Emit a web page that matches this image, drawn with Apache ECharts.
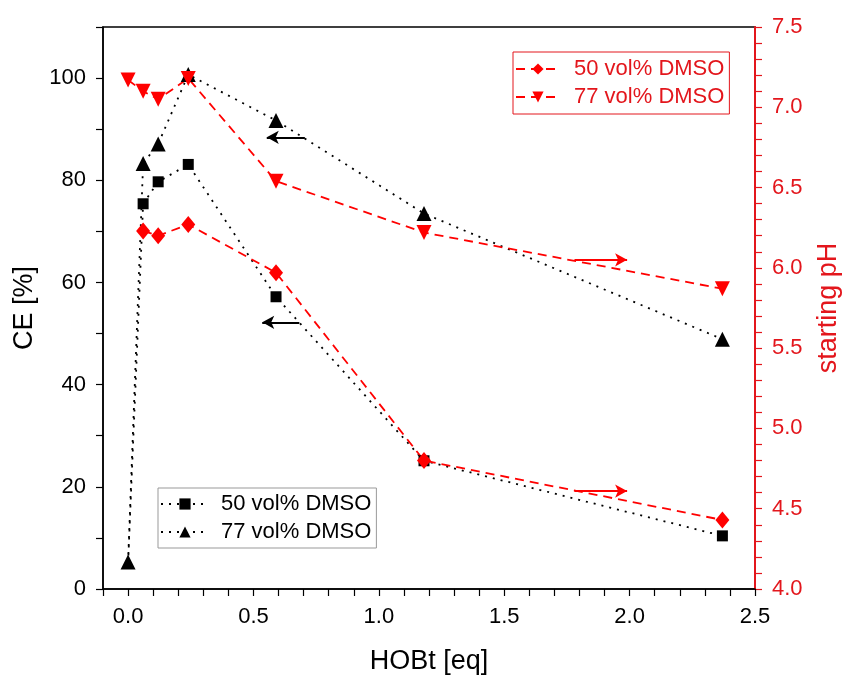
<!DOCTYPE html>
<html>
<head>
<meta charset="utf-8">
<script src="https://cdn.jsdelivr.net/npm/echarts@6/dist/echarts.min.js"></script>
<style>
  html, body { margin: 0; padding: 0; background: #fff; }
  #chart { width: 842px; height: 675px; }
</style>
</head>
<body>
<div id="chart"></div>
<script>
// HOBt equivalents (x)
var hobt = [0, 0.06, 0.12, 0.24, 0.59, 1.18, 2.37];
// CE [%] (left axis)
var ce50 = [5, 75.4, 79.7, 83.1, 57.2, 25.1, 10.4];
var ce77 = [5.3, 83.3, 87.1, 100.7, 91.7, 73.5, 48.9];
// starting pH (right axis)
var ph50 = [null, 6.23, 6.20, 6.27, 5.97, 4.80, 4.43];
var ph77 = [7.17, 7.10, 7.05, 7.18, 6.54, 6.22, 5.87];
// arrows: [fromX, fromY, toX, toY]
var ceArrows = [[0.705, 88.4, 0.553, 88.4], [0.683, 52.2, 0.535, 52.2]];
var phArrows = [[1.78, 6.05, 1.99, 6.05], [1.78, 4.61, 1.99, 4.61]];

var RED = '#ff0000';
var AXRED = '#e3161c';
var FONT = 'Liberation Sans, Arial, sans-serif';

function pairs (ys) {
  var out = [];
  ys.forEach(function (y, i) {
    if (y !== null) out.push([hobt[i], y]);
  });
  return out;
}

function arrows (list, color) {
  return {
    silent: true,
    animation: false,
    symbol: ['none', 'arrow'],
    symbolSize: [10, 12],
    label: { show: false },
    lineStyle: { type: 'solid', color: color, width: 2 },
    data: list.map(function (a) {
      return [{ coord: [a[0], a[1]] }, { coord: [a[2], a[3]] }];
    })
  };
}

var ce50Data = pairs(ce50);
// first point only carries the line, no marker visible in the figure
ce50Data[0] = { value: ce50Data[0], symbol: 'none' };

var chart = echarts.init(document.getElementById('chart'));

var option = {
  animation: false,
  textStyle: { fontFamily: FONT },
  grid: {
    left: 103, right: 87, top: 27, bottom: 86,
    outerBoundsMode: 'none',
    containLabel: false,
    show: true, borderColor: '#000', borderWidth: 1.5
  },
  legend: [
    {
      data: ['pH 50 vol% DMSO', 'pH 77 vol% DMSO'],
      orient: 'vertical',
      left: 513, top: 52,
      padding: [6, 5, 6, 2],
      itemWidth: 44, itemHeight: 14, itemGap: 6,
      borderColor: AXRED, borderWidth: 1,
      formatter: function (n) { return n.replace('pH ', ''); },
      textStyle: { color: AXRED, fontSize: 22, fontFamily: FONT, padding: [0, 0, 0, 9] }
    },
    {
      data: ['CE 50 vol% DMSO', 'CE 77 vol% DMSO'],
      orient: 'vertical',
      left: 158, top: 488,
      padding: [5, 5, 5, 2],
      itemWidth: 48, itemHeight: 14, itemGap: 6,
      borderColor: '#999', borderWidth: 1,
      formatter: function (n) { return n.replace('CE ', ''); },
      textStyle: { color: '#000', fontSize: 22, fontFamily: FONT, padding: [0, 0, 0, 7] }
    }
  ],
  xAxis: {
    type: 'value',
    min: -0.1, max: 2.5, interval: 0.1,
    name: 'HOBt [eq]',
    nameLocation: 'middle',
    nameGap: 59,
    nameTextStyle: { fontSize: 27, color: '#000', fontFamily: FONT },
    axisLine: { show: true, onZero: false, lineStyle: { color: '#000', width: 1.5 } },
    axisTick: { show: true, length: 7, lineStyle: { color: '#000', width: 1.2 } },
    axisLabel: {
      fontSize: 22, color: '#000', margin: 17,
      formatter: function (v) {
        var t = Math.round(v * 10);
        return (t >= 0 && t % 5 === 0) ? (t / 10).toFixed(1) : '';
      }
    },
    splitLine: { show: false }
  },
  yAxis: [
    {
      type: 'value',
      min: 0, max: 110, interval: 10,
      name: 'CE [%]',
      nameLocation: 'middle',
      nameRotate: 90,
      nameGap: 56,
      nameTextStyle: { fontSize: 27, color: '#000', fontFamily: FONT },
      axisLine: { show: true, onZero: false, lineStyle: { color: '#000', width: 1.5 } },
      axisTick: { show: true, length: 7, lineStyle: { color: '#000', width: 1.2 } },
      axisLabel: {
        fontSize: 22, color: '#000', margin: 17,
        formatter: function (v) { return (v % 20 === 0 && v <= 100) ? v : ''; }
      },
      splitLine: { show: false }
    },
    {
      type: 'value',
      position: 'right',
      min: 4.0, max: 7.5, interval: 0.1,
      name: 'starting pH',
      nameLocation: 'middle',
      nameRotate: 90,
      nameGap: 60,
      nameTextStyle: { fontSize: 27, color: AXRED, fontFamily: FONT },
      axisLine: { show: true, onZero: false, lineStyle: { color: AXRED, width: 2 } },
      axisTick: { show: true, length: 7, lineStyle: { color: AXRED, width: 1.2 } },
      axisLabel: {
        fontSize: 22, color: AXRED, margin: 17,
        formatter: function (v) {
          var t = Math.round(v * 10);
          return t % 5 === 0 ? (t / 10).toFixed(1) : '';
        }
      },
      splitLine: { show: false }
    }
  ],
  series: [
    {
      name: 'CE 50 vol% DMSO',
      type: 'line',
      yAxisIndex: 0,
      data: ce50Data,
      symbol: 'rect',
      symbolSize: 11,
      itemStyle: { color: '#000' },
      lineStyle: { color: '#000', width: 1.8, type: [2, 6] },
      markLine: arrows(ceArrows, '#000')
    },
    {
      name: 'CE 77 vol% DMSO',
      type: 'line',
      yAxisIndex: 0,
      data: pairs(ce77),
      symbol: 'triangle',
      symbolSize: 15,
      itemStyle: { color: '#000' },
      lineStyle: { color: '#000', width: 1.8, type: [2, 6] }
    },
    {
      name: 'pH 50 vol% DMSO',
      type: 'line',
      yAxisIndex: 1,
      data: pairs(ph50),
      symbol: 'diamond',
      symbolSize: [14, 17],
      itemStyle: { color: RED },
      lineStyle: { color: RED, width: 1.8, type: [9, 6] },
      markLine: arrows(phArrows, RED)
    },
    {
      name: 'pH 77 vol% DMSO',
      type: 'line',
      yAxisIndex: 1,
      data: pairs(ph77),
      symbol: 'triangle',
      symbolRotate: 180,
      symbolSize: 15,
      itemStyle: { color: RED },
      lineStyle: { color: RED, width: 1.8, type: [9, 6] }
    }
  ]
};

chart.setOption(option);
</script>
</body>
</html>
